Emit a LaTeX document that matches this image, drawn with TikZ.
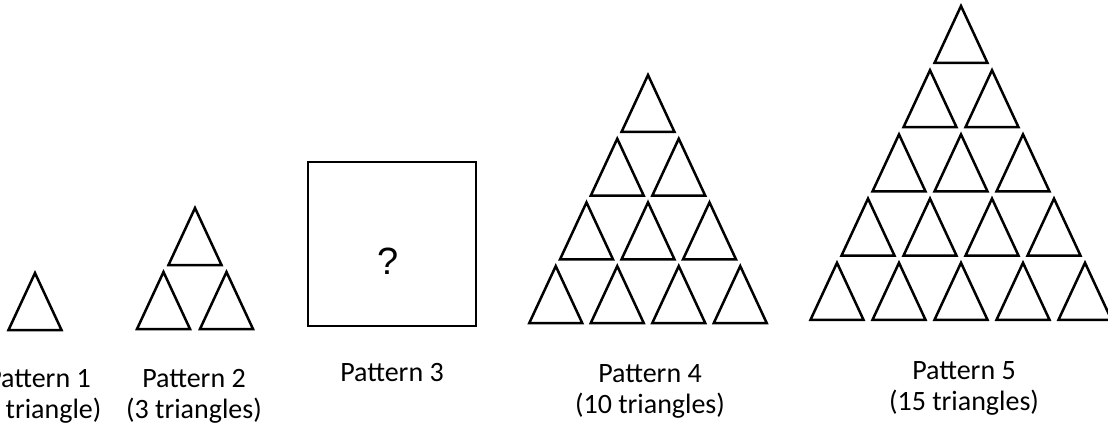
\documentclass[tikz,border=0pt]{standalone}
\usepackage{fontspec}
\setmainfont{Carlito}
\newfontfamily\qfont{Liberation Sans}
\usetikzlibrary{positioning}
\tikzset{
	triline/.style={draw=black, line width=2.5pt},
	tri/.pic={\draw[triline] (-26.5,57) -- (0,0) -- (26.5,57) -- cycle;},
	qbox/.style={rectangle, draw=black, line width=2pt, minimum width=168pt, minimum height=164pt, inner sep=0pt},
	lbl/.style={align=center, font=\fontsize{28}{31}\selectfont},
}

\begin{document}
\begin{tikzpicture}[x=1pt, y=-1pt]
	\useasboundingbox (0,0) rectangle (1108,433);
	% pattern 1
	\pic at (35,273) {tri};
	% pattern 2
	\pic at (195,208) {tri};
	\foreach \k in {0,1}
		\pic at (163.5+63*\k,272) {tri};
	% pattern 3
	\node[qbox] (box) at (392,244) {};
	\node[font=\qfont\fontsize{38}{40}\selectfont] (qmark) at (388,261) {?};
	% pattern 4
	\foreach \r in {0,...,3}
		\foreach \k in {0,...,\r}
			\pic at ({648+(\k-\r/2)*61.5},{75+63.7*\r}) {tri};
	% pattern 5
	\foreach \r in {0,...,4}
		\foreach \k in {0,...,\r}
			\pic at ({961+(\k-\r/2)*62},{6+64.2*\r}) {tri};
	% labels
	\node[lbl] (lab1) at (39,396) {Pattern 1\\(1 triangle)};
	\node[lbl] (lab2) at (194,396) {Pattern 2\\(3 triangles)};
	\node[lbl] (lab3) at (392,373) {Pattern 3};
	\node[lbl] (lab4) at (650,391) {Pattern 4\\(10 triangles)};
	\node[lbl] (lab5) at (964,388) {Pattern 5\\(15 triangles)};
\end{tikzpicture}
\end{document}
